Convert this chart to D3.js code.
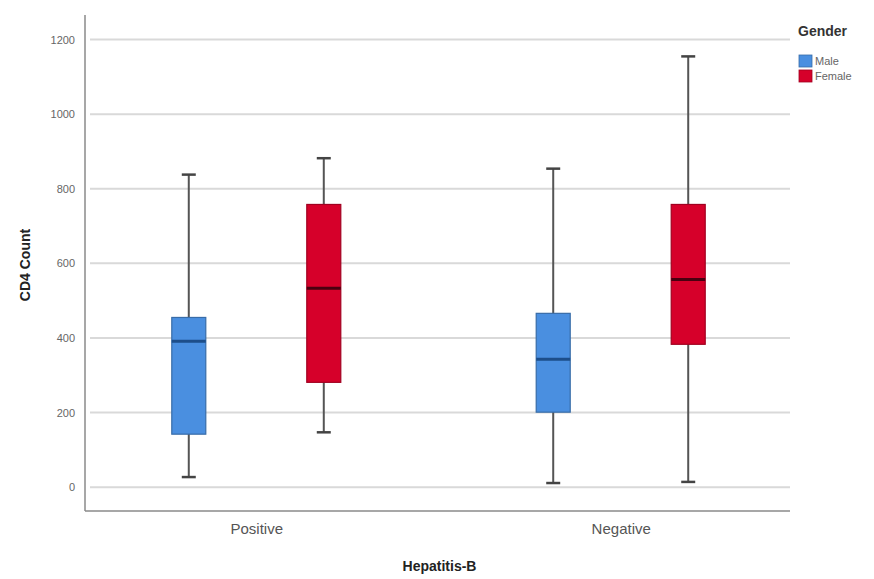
<!DOCTYPE html>
<html>
<head>
<meta charset="utf-8">
<script src="https://cdn.jsdelivr.net/npm/d3@7"></script>
<style>
  body { margin: 0; background: #fff; }
  text { font-family: "Liberation Sans", Arial, sans-serif; }
</style>
</head>
<body>
<div id="chart"></div>
<script>
// data
const groups = ["Positive", "Negative"];
const genders = ["Male", "Female"];
const genderColors = ["#4a8fe0", "#d6002a"];
const medianColors = ["#1d4e8a", "#4a0010"];
const yTicks = [0, 200, 400, 600, 800, 1000, 1200];

// [group, gender, min, q1, median, q3, max]
const boxes = [
  ["Positive", "Male",   27, 142, 391, 455, 838],
  ["Positive", "Female", 147, 281, 533, 758, 882],
  ["Negative", "Male",   11, 201, 343, 466, 854],
  ["Negative", "Female", 14, 383, 557, 758, 1155]
];

const width = 874, height = 579;
const plotL = 85, plotR = 792, plotT = 15, plotB = 511;

const svg = d3.select("#chart").append("svg")
  .attr("width", width)
  .attr("height", height);

const y = d3.scaleLinear().domain([-64, 1266]).range([plotB, plotT]);
const x = d3.scalePoint().domain(groups).range([plotL, plotR]).padding(0.47);
const xg = d3.scalePoint().domain(genders).range([-67.5, 67.5]);
const boxW = 34;

// gridlines
svg.append("g").selectAll("line")
  .data(yTicks)
  .enter()
  .append("line")
  .attr("x1", plotL + 5)
  .attr("x2", plotR - 2)
  .attr("y1", d => y(d))
  .attr("y2", d => y(d))
  .attr("stroke", "#d9d9d9")
  .attr("stroke-width", 2);

// y axis
const yAxis = svg.append("g")
  .attr("transform", `translate(${plotL},0)`)
  .call(d3.axisLeft(y).tickValues(yTicks).tickFormat(d3.format("d")).tickSize(0).tickPadding(10));
yAxis.select(".domain").attr("stroke", "#8a8a8a").attr("stroke-width", 1.5)
  .attr("d", `M0,${plotT}V${plotB}`);
yAxis.selectAll("text").attr("fill", "#666").attr("font-size", 11);

// x axis
const xAxis = svg.append("g")
  .attr("transform", `translate(0,${plotB})`)
  .call(d3.axisBottom(x).tickSize(0).tickPadding(12));
xAxis.select(".domain").attr("stroke", "#8a8a8a").attr("stroke-width", 1.5)
  .attr("d", `M${plotL},0H${plotR - 2}`);
xAxis.selectAll("text").attr("fill", "#555").attr("font-size", 15);

// boxes
const box = svg.append("g").selectAll("g.box")
  .data(boxes)
  .enter()
  .append("g")
  .attr("class", "box")
  .attr("transform", d => `translate(${x(d[0]) + xg(d[1])},0)`);

box.append("line")
  .attr("y1", d => y(d[2]))
  .attr("y2", d => y(d[6]))
  .attr("stroke", "#555")
  .attr("stroke-width", 2);

box.selectAll("line.cap")
  .data(d => [d[2], d[6]])
  .enter()
  .append("line")
  .attr("class", "cap")
  .attr("x1", -7)
  .attr("x2", 7)
  .attr("y1", d => y(d))
  .attr("y2", d => y(d))
  .attr("stroke", "#444")
  .attr("stroke-width", 2.5);

box.append("rect")
  .attr("x", -boxW / 2)
  .attr("width", boxW)
  .attr("y", d => y(d[5]))
  .attr("height", d => y(d[3]) - y(d[5]))
  .attr("fill", d => genderColors[genders.indexOf(d[1])])
  .attr("stroke", d => d3.color(genderColors[genders.indexOf(d[1])]).darker(0.8))
  .attr("stroke-width", 1.2);

box.append("line")
  .attr("x1", -boxW / 2)
  .attr("x2", boxW / 2)
  .attr("y1", d => y(d[4]))
  .attr("y2", d => y(d[4]))
  .attr("stroke", d => medianColors[genders.indexOf(d[1])])
  .attr("stroke-width", 3);

// axis titles
svg.append("text")
  .attr("x", (plotL + plotR) / 2 + 1)
  .attr("y", 571)
  .attr("text-anchor", "middle")
  .attr("font-size", 14)
  .attr("font-weight", "bold")
  .attr("fill", "#222")
  .text("Hepatitis-B");

svg.append("text")
  .attr("transform", `translate(30,${(plotT + plotB) / 2 + 2}) rotate(-90)`)
  .attr("text-anchor", "middle")
  .attr("font-size", 14)
  .attr("font-weight", "bold")
  .attr("fill", "#222")
  .text("CD4 Count");

// legend
const legend = svg.append("g").attr("transform", "translate(798,0)");
legend.append("text")
  .attr("x", 0)
  .attr("y", 36)
  .attr("font-size", 14)
  .attr("font-weight", "bold")
  .attr("fill", "#333")
  .text("Gender");

legend.selectAll("rect")
  .data(genders)
  .enter()
  .append("rect")
  .attr("x", 1)
  .attr("y", (d, i) => 55 + i * 15)
  .attr("width", 13)
  .attr("height", 12)
  .attr("fill", (d, i) => genderColors[i])
  .attr("stroke", (d, i) => d3.color(genderColors[i]).darker(0.8))
  .attr("stroke-width", 0.8);

legend.selectAll("text.item")
  .data(genders)
  .enter()
  .append("text")
  .attr("class", "item")
  .attr("x", 17)
  .attr("y", (d, i) => 65 + i * 15)
  .attr("font-size", 11)
  .attr("fill", "#666")
  .text(d => d);
</script>
</body>
</html>
